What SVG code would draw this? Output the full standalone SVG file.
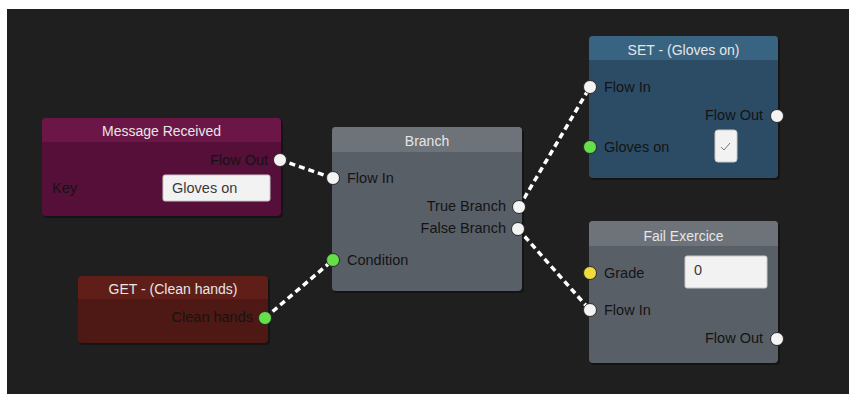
<svg xmlns="http://www.w3.org/2000/svg" width="849" height="394" viewBox="0 0 849 394">
<defs>
<style>
.title{font-family:"Liberation Sans",Arial,sans-serif;font-size:14px;fill:#e6e6e6;text-anchor:middle}
.lbl{font-family:"Liberation Sans",Arial,sans-serif;font-size:14.5px;fill:#141414}
.r{text-anchor:end}
.field{font-family:"Liberation Sans",Arial,sans-serif;font-size:14.5px;fill:#3a3a3a}
.port{fill:#f4f4f4;stroke:#2a2a2a;stroke-width:1}
.green{fill:#66e04a;stroke:#2a2a2a;stroke-width:1}
.yellow{fill:#f0dc3c;stroke:#2a2a2a;stroke-width:1}
.box{fill:#f2f2f2;stroke:#c8c8c8;stroke-width:1}
.wire{fill:none;stroke:#ffffff;stroke-width:3.5;stroke-dasharray:6 4}
.shadow{fill:#000;opacity:0.35}
</style>
</defs>
<rect x="0" y="0" width="849" height="394" fill="#ffffff"/>
<rect x="7" y="9" width="842" height="385" fill="#1f1f1f"/>

<g id="connectors">
<line class="wire" x1="280" y1="160" x2="333" y2="178"/>
<line class="wire" x1="265" y1="318" x2="333" y2="260"/>
<line class="wire" x1="519" y1="207" x2="590" y2="87"/>
<line class="wire" x1="518" y1="229" x2="590" y2="310"/>
</g>

<g id="message-received">
<rect class="shadow" x="43" y="120" width="240" height="98" rx="4"/>
<rect x="42" y="118" width="239" height="98" rx="4" fill="#560f38"/>
<path d="M42 142 V122 a4 4 0 0 1 4 -4 H277 a4 4 0 0 1 4 4 V142 Z" fill="#6b1647"/>
<text class="title" x="161.5" y="136">Message Received</text>
<text class="lbl r" x="268" y="165">Flow Out</text>
<circle class="port" cx="280" cy="160" r="6.5"/>
<text class="lbl" x="52" y="193">Key</text>
<rect class="box" x="163" y="175" width="107" height="26" rx="2"/>
<text class="field" x="172" y="193">Gloves on</text>
</g>

<g id="get-clean-hands">
<rect class="shadow" x="79" y="278" width="191" height="67" rx="4"/>
<rect x="78" y="276" width="190" height="67" rx="4" fill="#4e1914"/>
<path d="M78 299 V280 a4 4 0 0 1 4 -4 H264 a4 4 0 0 1 4 4 V299 Z" fill="#5f1e17"/>
<text class="title" x="173" y="294">GET - (Clean hands)</text>
<text class="lbl r" x="253" y="322">Clean hands</text>
<circle class="green" cx="265" cy="318" r="6.5"/>
</g>

<g id="branch">
<rect class="shadow" x="333" y="129" width="191" height="164" rx="4"/>
<rect x="332" y="127" width="190" height="164" rx="4" fill="#595f67"/>
<path d="M332 152 V131 a4 4 0 0 1 4 -4 H518 a4 4 0 0 1 4 4 V152 Z" fill="#6d7379"/>
<text class="title" x="427" y="146">Branch</text>
<circle class="port" cx="333" cy="178" r="6.5"/>
<text class="lbl" x="347" y="183">Flow In</text>
<text class="lbl r" x="506" y="211">True Branch</text>
<circle class="port" cx="519" cy="207" r="6.5"/>
<text class="lbl r" x="506" y="233">False Branch</text>
<circle class="port" cx="518" cy="229" r="6.5"/>
<circle class="green" cx="333" cy="260" r="6.5"/>
<text class="lbl" x="347" y="265">Condition</text>
</g>

<g id="set-gloves-on">
<rect class="shadow" x="590" y="38" width="190" height="142" rx="4"/>
<rect x="589" y="36" width="189" height="142" rx="4" fill="#2b4c64"/>
<path d="M589 60 V40 a4 4 0 0 1 4 -4 H774 a4 4 0 0 1 4 4 V60 Z" fill="#386381"/>
<text class="title" x="683.5" y="55">SET - (Gloves on)</text>
<circle class="port" cx="590" cy="87" r="6.5"/>
<text class="lbl" x="604" y="92">Flow In</text>
<text class="lbl r" x="763" y="120">Flow Out</text>
<circle class="port" cx="777" cy="116" r="6.5"/>
<circle class="green" cx="590" cy="147" r="6.5"/>
<text class="lbl" x="604" y="152">Gloves on</text>
<rect class="box" x="715" y="130" width="22" height="32" rx="3"/>
<path d="M721 147 l3 3 l6 -7" fill="none" stroke="#777" stroke-width="1"/>
</g>

<g id="fail-exercice">
<rect class="shadow" x="590" y="223" width="190" height="142" rx="4"/>
<rect x="589" y="221" width="189" height="142" rx="4" fill="#595f67"/>
<path d="M589 246 V225 a4 4 0 0 1 4 -4 H774 a4 4 0 0 1 4 4 V246 Z" fill="#6d7379"/>
<text class="title" x="683.5" y="241">Fail Exercice</text>
<circle class="yellow" cx="590" cy="273" r="6.5"/>
<text class="lbl" x="604" y="278">Grade</text>
<rect class="box" x="685" y="256" width="82" height="32" rx="2"/>
<text class="field" x="694" y="275">0</text>
<circle class="port" cx="590" cy="310" r="6.5"/>
<text class="lbl" x="604" y="315">Flow In</text>
<text class="lbl r" x="763" y="343">Flow Out</text>
<circle class="port" cx="777" cy="339" r="6.5"/>
</g>
</svg>
